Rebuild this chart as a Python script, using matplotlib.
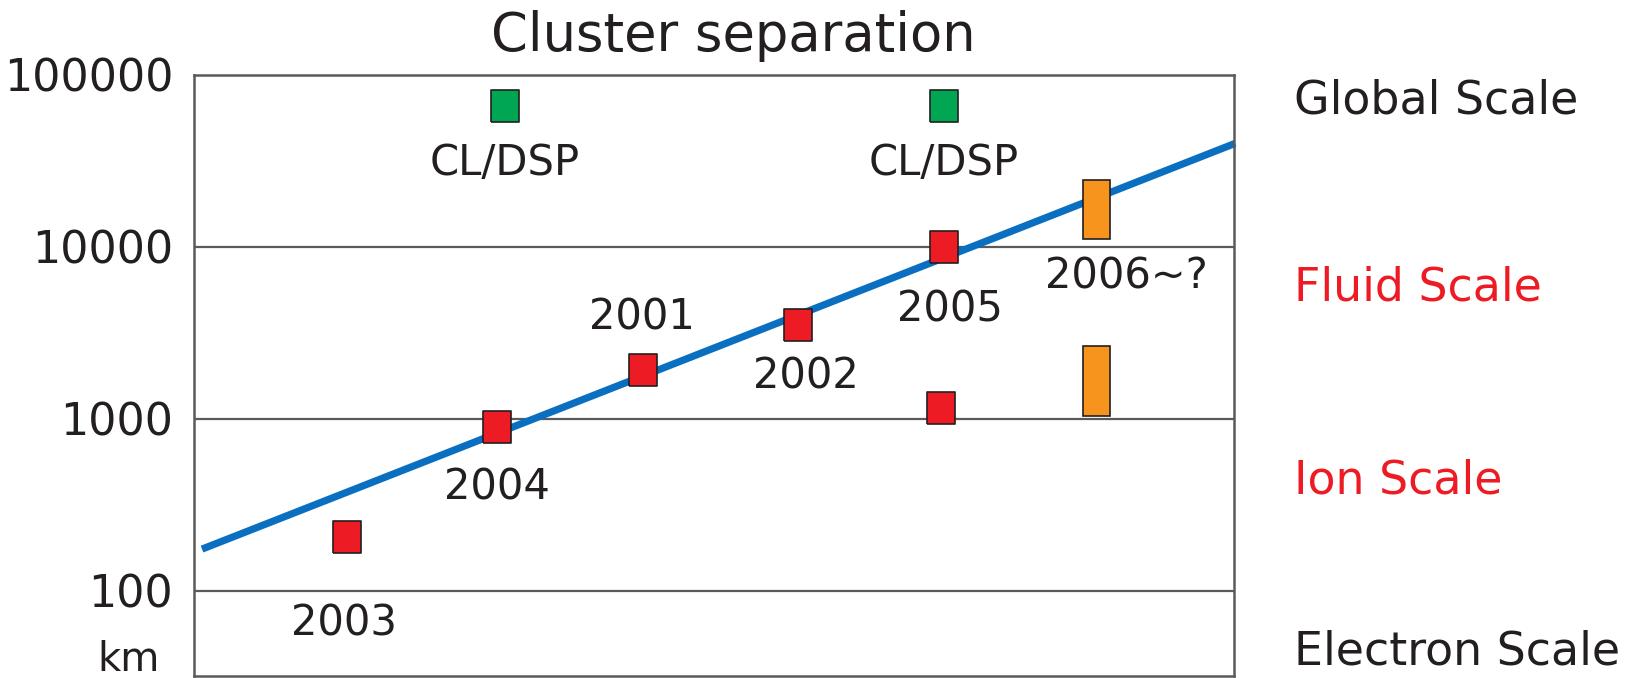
import numpy as np
import matplotlib
matplotlib.use('Agg')
import matplotlib.pyplot as plt

plt.rcParams['font.family'] = ['DejaVu Sans']

# cluster separations (km)
year_labels = ['2003', '2004', '2001', '2002', '2005']
year_x = [1.53, 3.03, 4.49, 6.04, 7.50]
year_sep = [205, 900, 1930, 3500, 10000]
year_offsets = [(-2, -62), (0, -44), (-1, 38), (6, -37), (4, -45)]

low2005_x = [7.47]
low2005_sep = [1160]

cldsp_x = [3.11, 7.50]
cldsp_sep = [66000, 66000]

future_x = [9.02, 9.02]
future_bottom = [11100, 1040]
future_top = [24500, 2650]

trend_x = [0.08, 10.41]
trend_sep = [175, 40000]

yticks = [100, 1000, 10000, 100000]
ytick_labels = ['100', '1000', '10000', '100000']

scale_names = ['Global Scale', 'Fluid Scale', 'Ion Scale', 'Electron Scale']
scale_colors = ['#231f20', '#ed1c24', '#ed1c24', '#231f20']

red = '#ed1c24'
green = '#00a651'
orange = '#f7941d'
dark = '#231f20'
grey = '#5a5a5a'

fig = plt.figure(figsize=(16.46, 6.78), dpi=100)
ax = fig.add_axes([194/1646, 2/678, (1234-194)/1646, (676-75)/678])
ax.set_yscale('log')
ax.set_xlim(0, 10.40)
ax.set_ylim(32, 1e5)

for v in yticks[:-1]:
    ax.axhline(v, color=grey, lw=1.6, zorder=1)

ax.plot(trend_x, trend_sep, color='#0a6fc0', lw=5.2, solid_capstyle='butt',
        zorder=2, clip_on=False)

rect = [(-0.435, -0.5), (0.435, -0.5), (0.435, 0.5), (-0.435, 0.5), (-0.435, -0.5)]
ax.plot(year_x, year_sep, ls='none', marker=rect, ms=22.5, mfc=red,
        mec=dark, mew=1.2, zorder=3)
ax.plot(low2005_x, low2005_sep, ls='none', marker=rect, ms=22.5, mfc=red,
        mec=dark, mew=1.2, zorder=3)
ax.plot(cldsp_x, cldsp_sep, ls='none', marker=rect, ms=22.5, mfc=green,
        mec=dark, mew=1.2, zorder=3)
ax.bar(future_x, np.array(future_top) - np.array(future_bottom),
       bottom=future_bottom, width=0.27, color=orange, edgecolor=dark,
       lw=1.2, zorder=3)

lab_kw = dict(textcoords='offset points', ha='center', va='center',
              fontsize=30, color=dark)
for lab, x, y, off in zip(year_labels, year_x, year_sep, year_offsets):
    ax.annotate(lab, (x, y), xytext=off, **lab_kw)
for x, y in zip(cldsp_x, cldsp_sep):
    ax.annotate('CL/DSP', (x, y), xytext=(0, -41), **lab_kw)
ax.annotate('2006~?', (future_x[0], future_bottom[0]), xytext=(22, -27), **lab_kw)

ax.set_xticks([])
ax.set_yticks(yticks)
ax.set_yticklabels(ytick_labels, fontsize=32, color=dark)
ax.yaxis.set_minor_locator(matplotlib.ticker.NullLocator())
ax.tick_params(axis='y', length=0, pad=15)
for s in ax.spines.values():
    s.set_color(grey)
    s.set_linewidth(1.8)

fig.text(733/1646, 1 - 36/678, 'Cluster separation', ha='center', va='center',
         fontsize=38, color=dark)
fig.text(129/1646, 1 - 660/678, 'km', ha='center', va='center',
         fontsize=29, color=dark)

scale_y = [101, 288, 481, 652]
for name, c, yp in zip(scale_names, scale_colors, scale_y):
    fig.text(1294/1646, 1 - yp/678, name, ha='left', va='center',
             fontsize=33, color=c)

fig.savefig('out.png', dpi=100)
